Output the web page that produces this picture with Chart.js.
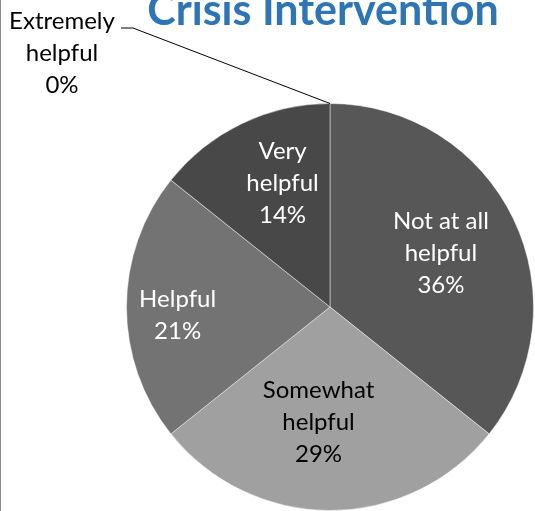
<!DOCTYPE html>
<html>
<head>
<meta charset="utf-8">
<script src="https://cdn.jsdelivr.net/npm/chart.js@4.4.1/dist/chart.umd.min.js"></script>
<style>
  html, body { margin: 0; padding: 0; background: #fff; }
  #frame { position: relative; width: 534px; height: 511px; overflow: hidden; border-left: 1px solid #8a8a8a; }
  #frame canvas { position: absolute; left: 0; top: 0; }
</style>
</head>
<body>
<div id="frame"><canvas id="crisis" width="534" height="520"></canvas></div>
<script>
// survey answers, one slice per answer
const chartTitle = 'Crisis Intervention';
const categories = [
  ['Not at all', 'helpful'],
  ['Somewhat', 'helpful'],
  ['Helpful'],
  ['Very', 'helpful'],
  ['Extremely', 'helpful']
];
const responses = [5, 4, 3, 2, 0];
const sliceColors = ['#575757', '#a0a0a0', '#737373', '#484848', '#303030'];

// label look per slice
const labelColors = ['#ffffff', '#000000', '#ffffff', '#ffffff', '#000000'];
const labelRadius = [0.605, 0.567, 0.75, 0.65];
const labelTurn = [0, 5.7, -3.2, 4.7]; // degrees, clockwise
const labelFont = '24px Lato';
const lineGap = 32;

const total = responses.reduce((a, b) => a + b, 0);

function drawLines(ctx, lines, x, y, color) {
  ctx.fillStyle = color;
  const top = y - (lines.length - 1) * lineGap / 2;
  lines.forEach((t, k) => ctx.fillText(t, x, top + k * lineGap));
}

const sliceLabels = {
  id: 'sliceLabels',
  afterDatasetsDraw(chart) {
    const ctx = chart.ctx;
    const meta = chart.getDatasetMeta(0);
    ctx.save();
    ctx.font = labelFont;
    ctx.textAlign = 'center';
    ctx.textBaseline = 'middle';
    meta.data.forEach((arc, i) => {
      const p = arc.getProps(['x', 'y', 'startAngle', 'endAngle', 'outerRadius'], true);
      const pct = Math.round(responses[i] / total * 100);
      const lines = categories[i].concat(pct + '%');
      if (responses[i] === 0) {
        // empty slice: text sits outside with a leader line
        const ax = p.x + Math.cos(p.startAngle) * p.outerRadius;
        const ay = p.y + Math.sin(p.startAngle) * p.outerRadius;
        ctx.strokeStyle = '#000';
        ctx.lineWidth = 1;
        ctx.beginPath();
        ctx.moveTo(ax, ay);
        ctx.lineTo(ax - 197, ay - 75.5);
        ctx.lineTo(ax - 209, ay - 75.5);
        ctx.stroke();
        drawLines(ctx, lines, ax - 268, ay - 50, labelColors[i]);
        return;
      }
      const mid = (p.startAngle + p.endAngle) / 2 + labelTurn[i] * Math.PI / 180;
      const r = p.outerRadius * labelRadius[i];
      drawLines(ctx, lines, p.x + Math.cos(mid) * r, p.y + Math.sin(mid) * r, labelColors[i]);
    });
    ctx.restore();
  }
};

const headTitle = {
  id: 'headTitle',
  afterDraw(chart) {
    const ctx = chart.ctx;
    const area = chart.chartArea;
    ctx.save();
    ctx.font = 'bold 43px Lato';
    ctx.fillStyle = '#2e75b6';
    ctx.textAlign = 'center';
    ctx.textBaseline = 'alphabetic';
    ctx.fillText(chartTitle, (area.left + area.right) / 2 - 7, 25);
    ctx.restore();
  }
};

const crisis = new Chart(document.getElementById('crisis'), {
  type: 'pie',
  data: {
    labels: categories.map(c => c.join(' ')),
    datasets: [{
      data: responses,
      backgroundColor: sliceColors,
      borderColor: 'rgba(255,255,255,0.45)',
      borderWidth: 1
    }]
  },
  options: {
    responsive: false,
    animation: false,
    events: [],
    layout: { padding: { left: 125, right: 1, top: 103, bottom: 9 } },
    plugins: {
      legend: { display: false },
      title: { display: false },
      tooltip: { enabled: false }
    }
  },
  plugins: [sliceLabels, headTitle]
});
</script>
</body>
</html>
